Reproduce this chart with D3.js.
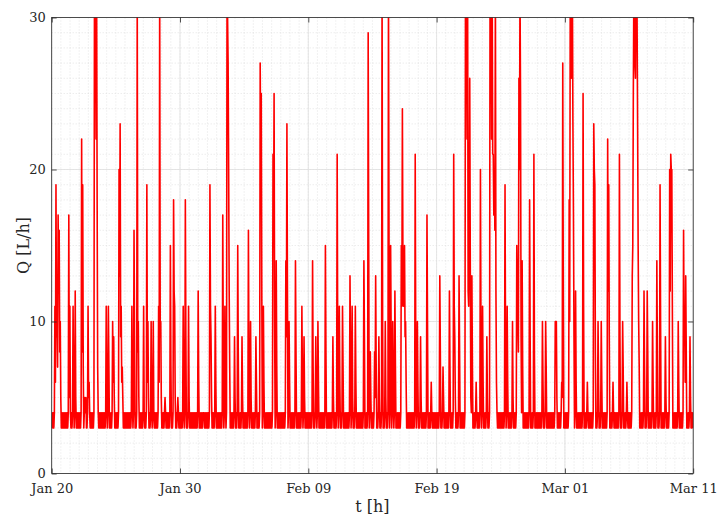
<!DOCTYPE html>
<html><head><meta charset="utf-8">
<script src="https://cdn.jsdelivr.net/npm/d3@7"></script>
<style>
body{margin:0;background:#fff}
text{font-family:"DejaVu Serif",serif;fill:#262626}
</style>
</head><body>
<svg id="chart" width="724" height="527"></svg>
<script>
// ---- data ----
const startDate = "2015-01-20T00:00:00Z";
const sampleHours = 1;                       // hourly values
// one string per day, 24 hourly samples each, values as base-36 digits (a=10 ... u=30, w=32 is clipped)
const dailyFlow = [
  "343434b6j9a7hcg8a5343434","34343434h5b43434b634c534","34343434m8j734545334b564",
  "34343434wrwmwi7434343434","343434b534b7343434a69534","343434kdn9b6753434343434",
  "343434b534g93434w8a53434","3434b43434j6a53434a434a4","34343434b6w9a53434345434",
  "343434f73434icb534345434","343434b434i93434b5343434","3434343434c6343434344434",
  "34343434jb95343434b63434","34343434h834b534wurkc734","343434953434f83434349534",
  "34343434g734a53434343496","343434rkpc34b63434343434","343434lgpa34e73434343434",
  "343434e9nc34a63434343434","e83434343434b63495343434","34343434e734349534a63434",
  "34343434f834343434343495","343434l934b63434b7343434","343434d834b53434b6343434",
  "34343434e9343434tf348534","343485d73434953434wa3434","a53434wf34f934a634c73434",
  "343434fboebcf9a634343434","34343434l834a63434953434","343434ha3434346434343434",
  "343434d83434753434343434","c7343434lb95343434d83434","343434wrwmwcbhqe54d73434",
  "3464343434k934b634343495","3434wrwmwllhkgwc64343434","34343434j834b634343434a5",
  "343434fca8qkwp94e7343434","343434i9343434l834343434","343434a63434a73434343434",
  "343434aaa53434343465rc34","34343434iawuqwwnh934c634","3434343434pb343434643434",
  "343434nkj83434a63434a634","34343434mcj9343434643434","343434l93434a73434346434",
  "343434dfpwwrqwwunfa73434","3434c73434c834343434a634","3434e83434ja343434349534",
  "3434kclkkb3434343434a634","343434g9a6d83434349534343"
];
const xTickDates  = ["2015-01-20","2015-01-30","2015-02-09","2015-02-19","2015-03-01","2015-03-11"];
const xTickLabels = ["Jan 20","Jan 30","Feb 09","Feb 19","Mar 01","Mar 11"];
const yTicks = [0, 10, 20, 30];
const yDomain = [0, 30];
const xLabel = "t [h]";
const yLabel = "Q [L/h]";

// ---- build series (time = day index + hour within that day) ----
const t0 = new Date(startDate).getTime();
const series = [];
dailyFlow.forEach((s, day) => {
  s.split("").forEach((c, h) => {
    series.push({ t: new Date(t0 + (day * 24 + h * sampleHours) * 3600e3), q: parseInt(c, 36) });
  });
});
const tickDates = xTickDates.map(s => new Date(s + "T00:00:00Z"));

// ---- layout ----
const L = 51.7, R = 693.2, T = 17.5, B = 473.5;
const svg = d3.select("#chart");
const x = d3.scaleUtc().domain([tickDates[0], tickDates[tickDates.length - 1]]).range([L, R]);
const y = d3.scaleLinear().domain(yDomain).range([B, T]);

// minor grid
const gMinor = svg.append("g");
const minorStepMs = (10 / 14) * 86400e3;
const minorX = d3.range(tickDates[0].getTime(), tickDates[tickDates.length-1].getTime(), minorStepMs).map(v => new Date(v));
gMinor.selectAll("line.mx").data(minorX).join("line")
  .attr("x1", d => x(d)).attr("x2", d => x(d)).attr("y1", T).attr("y2", B)
  .attr("stroke", "#d4d4d4").attr("stroke-width", 0.6).attr("stroke-dasharray", "1,2");
const minorY = d3.range(yDomain[0], yDomain[1], 1);
gMinor.selectAll("line.my").data(minorY).join("line")
  .attr("x1", L).attr("x2", R).attr("y1", d => y(d)).attr("y2", d => y(d))
  .attr("stroke", "#d4d4d4").attr("stroke-width", 0.6).attr("stroke-dasharray", "1,2");

// major grid
const gMajor = svg.append("g");
gMajor.selectAll("line.gx").data(tickDates).join("line")
  .attr("x1", d => x(d)).attr("x2", d => x(d)).attr("y1", T).attr("y2", B)
  .attr("stroke", "#dedede").attr("stroke-width", 0.8);
gMajor.selectAll("line.gy").data(yTicks).join("line")
  .attr("x1", L).attr("x2", R).attr("y1", d => y(d)).attr("y2", d => y(d))
  .attr("stroke", "#dedede").attr("stroke-width", 0.8);

// clip + line
svg.append("clipPath").attr("id", "clip").append("rect")
  .attr("x", L).attr("y", T).attr("width", R - L).attr("height", B - T);
const line = d3.line().x(d => x(d.t)).y(d => y(d.q));
svg.append("path").datum(series)
  .attr("clip-path", "url(#clip)")
  .attr("d", line).attr("fill", "none")
  .attr("stroke", "#ff0000").attr("stroke-width", 1.6).attr("stroke-linejoin", "round");

// axes (ticks pointing inward)
const fmt = d => xTickLabels[tickDates.findIndex(t => t.getTime() === d.getTime())];
svg.append("g").attr("transform", `translate(0,${B})`)
  .call(d3.axisBottom(x).tickValues(tickDates).tickFormat(fmt).tickSize(-5).tickPadding(10));
svg.append("g").attr("transform", `translate(0,${T})`)
  .call(d3.axisTop(x).tickValues(tickDates).tickFormat("").tickSize(-5));
svg.append("g").attr("transform", `translate(${L},0)`)
  .call(d3.axisLeft(y).tickValues(yTicks).tickSize(-5).tickPadding(6));
svg.append("g").attr("transform", `translate(${R},0)`)
  .call(d3.axisRight(y).tickValues(yTicks).tickFormat("").tickSize(-5));
svg.selectAll(".domain").remove();
svg.selectAll(".tick line").attr("stroke", "#262626").attr("stroke-width", 0.8);
svg.selectAll(".tick text").attr("font-size", 13).attr("font-family", '"DejaVu Serif",serif').attr("fill", "#262626");

// frame
svg.append("rect").attr("x", L).attr("y", T).attr("width", R - L).attr("height", B - T)
  .attr("fill", "none").attr("stroke", "#262626").attr("stroke-width", 0.8);

// labels
svg.append("text").attr("x", (L + R) / 2).attr("y", 512).attr("text-anchor", "middle")
  .attr("font-size", 16).text(xLabel);
svg.append("text").attr("transform", `translate(29,${(T + B) / 2}) rotate(-90)`)
  .attr("text-anchor", "middle").attr("font-size", 16).text(yLabel);
</script>
</body></html>
